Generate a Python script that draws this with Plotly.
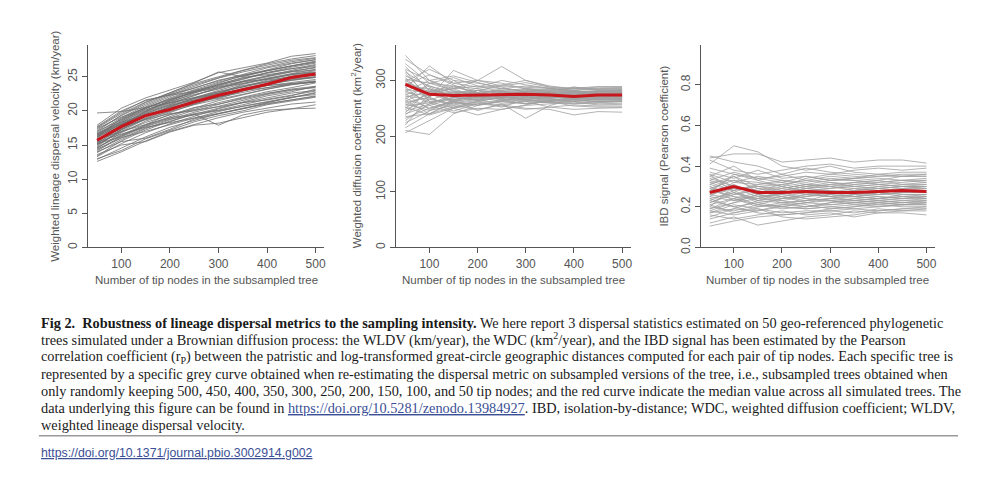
import plotly.graph_objects as go

# ---------------- data ----------------
tip_nodes = [50, 100, 150, 200, 250, 300, 350, 400, 450, 500]

wldv_trees = [
    [12.6,14.0,15.6,17.0,18.0,19.0,19.8,20.4,21.0,21.3],
    [12.9,14.5,16.2,17.6,18.6,19.6,20.4,21.1,21.6,22.2],
    [13.3,15.2,16.8,18.1,19.2,20.3,21.2,21.9,22.6,23.0],
    [13.6,15.0,15.5,16.9,17.9,18.2,19.0,19.8,20.3,20.4],
    [13.9,15.8,17.4,18.7,19.8,20.7,21.6,22.4,23.0,23.5],
    [14.1,16.3,17.9,19.2,20.4,21.5,22.4,23.2,23.8,24.3],
    [14.3,16.0,17.5,18.4,19.6,20.1,20.9,21.7,22.3,22.9],
    [14.5,16.8,18.5,19.8,21.0,22.1,23.0,23.8,24.5,25.0],
    [14.7,16.5,18.0,19.5,20.2,21.2,22.0,22.8,23.4,24.1],
    [14.8,17.2,18.9,20.3,21.5,22.6,23.6,24.3,25.1,25.6],
    [15.0,17.0,18.8,20.0,21.4,22.0,23.1,23.9,24.6,24.9],
    [15.1,16.9,18.3,19.4,20.5,21.0,21.8,22.5,23.2,23.6],
    [15.2,17.6,19.3,20.6,21.9,23.0,24.0,24.8,25.5,26.1],
    [15.3,17.3,19.0,20.7,21.8,22.8,23.5,24.5,25.0,25.3],
    [15.4,16.6,17.6,18.3,19.0,19.7,20.4,21.0,21.6,22.1],
    [15.5,17.8,19.6,21.0,22.3,23.3,24.3,25.1,25.8,26.4],
    [15.6,17.5,19.2,20.4,21.4,22.4,23.3,24.0,24.4,24.9],
    [15.7,17.9,19.7,20.9,21.8,22.5,23.9,24.6,25.4,25.7],
    [15.8,18.0,19.9,21.3,22.6,23.7,24.7,25.5,26.2,26.8],
    [15.9,17.4,18.8,19.9,20.9,21.7,22.4,23.1,23.9,24.3],
    [16.0,18.3,20.0,21.5,22.7,23.9,24.8,25.6,26.4,27.0],
    [16.1,18.1,19.4,20.5,21.3,22.0,22.7,23.4,23.9,24.2],
    [16.2,18.5,20.3,21.9,23.1,24.2,25.1,25.9,26.6,27.3],
    [16.3,17.7,18.7,19.6,20.0,21.0,21.9,22.6,23.1,23.4],
    [16.4,18.6,20.5,21.8,23.0,23.8,24.6,25.6,26.2,26.5],
    [16.5,18.2,19.8,21.1,22.0,22.9,23.7,24.3,24.9,25.2],
    [16.6,18.8,20.6,22.1,23.4,24.4,25.4,26.3,27.0,27.5],
    [16.7,18.4,20.1,21.4,22.4,23.2,24.2,25.0,25.7,26.0],
    [16.8,19.0,20.8,22.3,23.6,24.8,25.7,26.5,27.2,27.7],
    [17.0,18.7,20.2,21.2,22.2,23.5,24.0,24.7,25.3,25.9],
    [17.2,19.3,21.0,22.5,23.8,24.9,25.9,26.7,27.4,27.8],
    [17.4,19.1,20.4,21.6,22.8,23.6,24.4,25.2,26.0,26.7],
    [17.5,19.6,21.3,22.7,24.0,25.0,26.0,26.9,27.6,28.1],
    [17.7,20.0,21.5,22.4,23.3,24.5,25.2,25.8,26.6,27.1],
    [17.9,20.4,21.9,23.0,24.2,25.6,26.3,27.0,28.0,28.4],
    [19.7,19.9,20.5,21.2,21.9,22.6,23.1,23.7,24.0,24.4],
    [13.0,14.2,15.9,17.2,18.4,19.3,20.0,20.9,21.5,22.0],
    [14.0,15.5,16.0,17.3,18.8,19.5,20.3,21.2,22.0,22.6],
    [14.6,16.4,17.8,18.9,20.1,20.6,21.2,21.6,22.2,23.2],
    [15.0,17.3,19.5,20.8,21.6,21.8,22.9,23.7,24.2,24.6],
    [15.4,17.9,19.9,21.5,22.9,24.1,25.2,26.0,26.9,27.5],
    [15.8,17.0,18.0,19.0,19.5,17.9,19.4,20.1,20.3,20.9],
    [16.2,18.9,20.4,21.7,22.7,23.4,24.3,24.6,25.3,25.6],
    [16.6,18.3,19.5,20.2,21.0,22.0,23.0,23.4,24.0,24.2],
    [17.0,19.4,21.2,22.6,24.1,25.7,25.0,25.9,26.6,27.2],
    [17.6,19.8,21.6,22.3,22.8,23.9,24.9,25.3,25.8,26.3],
    [13.4,15.6,17.2,18.5,19.5,20.4,21.4,22.2,22.8,23.6],
    [14.4,16.1,17.0,18.0,18.9,19.9,20.7,21.4,22.0,22.4],
    [15.2,16.2,17.7,18.8,19.4,20.0,20.6,21.3,21.9,22.7],
    [16.4,18.0,19.3,20.6,21.6,22.7,23.5,24.2,24.7,25.0],
]
wldv_median = [15.7,17.7,19.3,20.2,21.3,22.3,23.1,23.9,24.9,25.4]

wdc_trees = [
    [345,300,285,290,280,275,278,282,276,280],
    [338,310,295,300,290,288,285,283,286,287],
    [330,295,305,290,285,280,277,275,279,281],
    [325,282,275,278,270,268,272,270,271,273],
    [320,300,280,275,285,290,286,280,282,284],
    [315,288,270,265,268,272,275,278,276,277],
    [312,270,318,300,295,285,280,278,281,283],
    [308,290,278,282,276,279,283,286,283,282],
    [305,262,266,270,274,276,268,265,270,272],
    [302,295,290,285,280,275,270,272,268,269],
    [300,276,262,268,272,281,284,279,275,276],
    [298,320,300,295,288,278,268,274,280,279],
    [296,280,285,270,262,266,270,273,277,275],
    [294,268,256,262,270,272,264,262,266,268],
    [292,310,292,276,282,270,273,270,272,274],
    [290,285,272,265,270,264,260,265,262,264],
    [288,255,268,282,278,274,281,288,284,285],
    [286,326,295,288,300,292,286,280,280,281],
    [284,278,265,274,268,279,276,271,270,271],
    [282,260,245,258,265,268,271,268,273,272],
    [280,300,308,296,285,282,278,288,283,282],
    [278,272,280,276,272,266,262,258,260,262],
    [276,248,262,255,263,270,275,281,277,278],
    [274,290,276,286,292,300,290,285,288,288],
    [272,266,258,264,259,262,268,274,270,270],
    [270,280,290,278,282,276,272,266,268,268],
    [268,250,262,270,276,284,278,272,275,275],
    [266,295,282,272,266,258,262,268,265,266],
    [264,240,252,262,270,265,260,258,262,263],
    [262,285,270,282,278,274,279,276,279,278],
    [260,270,300,276,268,275,270,282,276,276],
    [258,246,255,248,256,262,266,262,258,259],
    [256,276,285,300,325,300,288,286,289,289],
    [254,260,270,264,280,286,282,278,280,279],
    [252,238,250,258,254,248,252,256,254,254],
    [250,280,264,272,265,270,262,268,266,266],
    [248,265,278,268,275,265,270,275,271,271],
    [245,258,270,282,290,296,288,282,285,286],
    [242,284,260,256,262,258,264,270,266,265],
    [240,255,242,250,248,255,258,261,256,257],
    [238,272,288,278,270,280,276,274,273,274],
    [235,240,260,266,275,270,278,276,279,279],
    [232,250,264,246,258,232,255,266,262,262],
    [228,258,275,282,268,262,252,248,250,251],
    [224,245,266,270,280,272,266,262,268,268],
    [220,270,252,262,252,266,272,270,269,270],
    [215,240,262,276,270,285,280,264,261,262],
    [210,203,240,255,264,258,262,254,252,252],
    [206,228,250,260,256,250,248,238,244,243],
    [318,262,250,238,248,256,264,268,264,265],
]
wdc_median = [293,275,273,274,274,275,274,271,274,274]

ibd_trees = [
    [0.45,0.42,0.40,0.36,0.33,0.35,0.34,0.33,0.35,0.35],
    [0.44,0.46,0.46,0.42,0.43,0.44,0.42,0.43,0.43,0.415],
    [0.43,0.38,0.36,0.38,0.40,0.41,0.39,0.40,0.40,0.40],
    [0.41,0.50,0.47,0.40,0.38,0.40,0.37,0.36,0.37,0.37],
    [0.39,0.36,0.34,0.35,0.37,0.36,0.38,0.39,0.38,0.39],
    [0.37,0.34,0.38,0.34,0.35,0.33,0.34,0.35,0.36,0.36],
    [0.36,0.32,0.31,0.33,0.32,0.34,0.33,0.31,0.32,0.33],
    [0.35,0.40,0.33,0.30,0.34,0.36,0.35,0.34,0.33,0.34],
    [0.34,0.30,0.28,0.31,0.29,0.31,0.32,0.33,0.31,0.32],
    [0.33,0.37,0.34,0.32,0.30,0.29,0.30,0.29,0.30,0.31],
    [0.32,0.28,0.30,0.29,0.31,0.30,0.28,0.30,0.29,0.30],
    [0.31,0.35,0.27,0.26,0.28,0.29,0.31,0.32,0.33,0.32],
    [0.30,0.26,0.29,0.28,0.26,0.27,0.29,0.28,0.27,0.28],
    [0.29,0.33,0.32,0.30,0.27,0.25,0.26,0.27,0.28,0.29],
    [0.28,0.25,0.24,0.27,0.29,0.28,0.27,0.26,0.27,0.27],
    [0.27,0.31,0.26,0.24,0.25,0.26,0.25,0.24,0.26,0.26],
    [0.26,0.29,0.30,0.28,0.30,0.32,0.30,0.29,0.28,0.28],
    [0.25,0.23,0.25,0.26,0.24,0.23,0.24,0.25,0.24,0.25],
    [0.24,0.27,0.23,0.22,0.23,0.24,0.23,0.22,0.23,0.24],
    [0.23,0.20,0.22,0.24,0.26,0.25,0.26,0.27,0.25,0.26],
    [0.22,0.26,0.28,0.25,0.22,0.21,0.22,0.23,0.22,0.22],
    [0.21,0.24,0.20,0.21,0.22,0.23,0.21,0.20,0.21,0.21],
    [0.20,0.18,0.21,0.19,0.20,0.22,0.24,0.23,0.22,0.23],
    [0.19,0.22,0.24,0.23,0.21,0.19,0.20,0.21,0.20,0.20],
    [0.18,0.16,0.18,0.20,0.19,0.20,0.19,0.18,0.19,0.19],
    [0.17,0.21,0.19,0.17,0.18,0.18,0.17,0.19,0.18,0.18],
    [0.16,0.14,0.16,0.18,0.16,0.17,0.15,0.17,0.17,0.16],
    [0.14,0.17,0.19,0.15,0.14,0.15,0.16,0.18,0.19,0.20],
    [0.12,0.15,0.11,0.13,0.15,0.16,0.18,0.17,0.18,0.19],
    [0.105,0.13,0.15,0.16,0.17,0.19,0.20,0.22,0.21,0.22],
    [0.27,0.36,0.33,0.36,0.39,0.37,0.36,0.35,0.35,0.36],
    [0.25,0.32,0.35,0.33,0.31,0.33,0.34,0.36,0.35,0.35],
    [0.22,0.27,0.24,0.28,0.30,0.31,0.30,0.31,0.30,0.30],
    [0.20,0.30,0.26,0.25,0.23,0.26,0.28,0.29,0.30,0.29],
    [0.30,0.23,0.26,0.23,0.25,0.27,0.25,0.24,0.25,0.25],
    [0.33,0.29,0.25,0.22,0.20,0.22,0.23,0.24,0.23,0.23],
    [0.36,0.27,0.22,0.20,0.19,0.20,0.21,0.22,0.21,0.21],
    [0.18,0.22,0.26,0.29,0.31,0.30,0.29,0.28,0.29,0.29],
    [0.15,0.19,0.23,0.27,0.28,0.28,0.27,0.26,0.27,0.27],
    [0.24,0.20,0.17,0.16,0.17,0.18,0.19,0.20,0.21,0.22],
    [0.28,0.35,0.30,0.31,0.33,0.32,0.31,0.30,0.31,0.31],
    [0.31,0.28,0.23,0.25,0.27,0.26,0.25,0.26,0.27,0.27],
    [0.26,0.24,0.27,0.30,0.28,0.27,0.28,0.27,0.26,0.26],
    [0.19,0.24,0.21,0.24,0.26,0.25,0.23,0.24,0.25,0.24],
    [0.35,0.30,0.27,0.27,0.29,0.30,0.32,0.31,0.30,0.30],
    [0.23,0.28,0.31,0.32,0.35,0.33,0.33,0.32,0.33,0.33],
    [0.29,0.25,0.21,0.20,0.22,0.24,0.26,0.25,0.24,0.24],
    [0.17,0.19,0.18,0.21,0.20,0.21,0.22,0.23,0.24,0.25],
    [0.32,0.33,0.29,0.27,0.24,0.23,0.22,0.21,0.22,0.23],
    [0.21,0.17,0.20,0.22,0.23,0.24,0.25,0.27,0.28,0.28],
]
ibd_median = [0.27,0.30,0.27,0.27,0.275,0.27,0.27,0.275,0.28,0.275]

x_ticks = [100, 200, 300, 400, 500]
wldv_yticks = [0, 5, 10, 15, 20, 25]
wdc_yticks = [0, 100, 200, 300]
ibd_yticks = [0.0, 0.2, 0.4, 0.6, 0.8]

x_title = "Number of tip nodes in the subsampled tree"
y_titles = [
    "Weighted lineage dispersal velocity (km/year)",
    "Weighted diffusion coefficient (km<sup>2</sup>/year)",
    "IBD signal (Pearson coefficient)",
]

caption_lines = [
    "<b>Fig 2.  Robustness of lineage dispersal metrics to the sampling intensity.</b> We here report 3 dispersal statistics estimated on 50 geo-referenced phylogenetic",
    "trees simulated under a Brownian diffusion process: the WLDV (km/year), the WDC (km<sup>2</sup>/year), and the IBD signal has been estimated by the Pearson",
    "correlation coefficient (r<sub>P</sub>) between the patristic and log-transformed great-circle geographic distances computed for each pair of tip nodes. Each specific tree is",
    "represented by a specific grey curve obtained when re-estimating the dispersal metric on subsampled versions of the tree, i.e., subsampled trees obtained when",
    "only randomly keeping 500, 450, 400, 350, 300, 250, 200, 150, 100, and 50 tip nodes; and the red curve indicate the median value across all simulated trees. The",
    "data underlying this figure can be found in <span style=\"color:#3b4f96;text-decoration:underline\">https://doi.org/10.5281/zenodo.13984927</span>. IBD, isolation-by-distance; WDC, weighted diffusion coefficient; WLDV,",
    "weighted lineage dispersal velocity.",
]
doi_text = "https://doi.org/10.1371/journal.pbio.3002914.g002"

# ---------------- layout helpers ----------------
W, H = 1000, 494
def px(x):
    return x / W
def py(y):
    return 1 - y / H

panels = [
    dict(trees=wldv_trees, med=wldv_median, yticks=wldv_yticks, yr=[0, 29.6],
         xd=[88, 325], grey="#707070", fmt=None, ytx=55),
    dict(trees=wdc_trees, med=wdc_median, yticks=wdc_yticks, yr=[0, 363],
         xd=[397, 632], grey="#a0a0a0", fmt=None, ytx=357),
    dict(trees=ibd_trees, med=ibd_median, yticks=ibd_yticks, yr=[0, 0.994],
         xd=[702, 937], grey="#a0a0a0", fmt=".1f", ytx=665),
]

fig = go.Figure()
axis_color = "#555555"
tick_font = dict(family="Liberation Sans, Arial, sans-serif", size=12, color="#555555")
title_font = dict(family="Liberation Sans, Arial, sans-serif", size=11.5, color="#555555")

for i, p in enumerate(panels):
    sfx = "" if i == 0 else str(i + 1)
    xa, ya = "x" + sfx, "y" + sfx
    for tr in p["trees"]:
        fig.add_trace(go.Scatter(x=tip_nodes, y=tr, mode="lines", xaxis=xa, yaxis=ya,
                                 line=dict(color=p["grey"], width=0.8), showlegend=False,
                                 hoverinfo="skip"))
    fig.add_trace(go.Scatter(x=tip_nodes, y=p["med"], mode="lines", xaxis=xa, yaxis=ya,
                             line=dict(color="#c8161d", width=3), showlegend=False))
    fig.layout["xaxis" + sfx] = dict(
        domain=[px(p["xd"][0]), px(p["xd"][1])], anchor=ya, range=[31, 518],
        tickvals=x_ticks, ticks="outside", ticklen=5, tickcolor=axis_color,
        showline=True, linecolor=axis_color, linewidth=1, showgrid=False, zeroline=False,
        tickfont=tick_font)
    ydict = dict(
        domain=[py(251), py(46)], anchor=xa, range=p["yr"],
        tickvals=p["yticks"], ticks="outside", ticklen=5, tickcolor=axis_color,
        showline=True, linecolor=axis_color, linewidth=1, showgrid=False, zeroline=False,
        tickangle=-90, tickfont=tick_font)
    if p["fmt"]:
        ydict["tickformat"] = p["fmt"]
    fig.layout["yaxis" + sfx] = ydict
    # axis titles
    xc = (p["xd"][0] + p["xd"][1]) / 2
    fig.add_annotation(x=px(xc), y=py(284), xref="paper", yref="paper", text=x_title,
                       showarrow=False, xanchor="center", yanchor="middle", font=title_font)
    fig.add_annotation(x=px(p["ytx"]), y=py(148), xref="paper", yref="paper", text=y_titles[i],
                       showarrow=False, xanchor="center", yanchor="middle", textangle=-90,
                       font=title_font)

# caption
line_y = [327.5, 344.8, 362.1, 379.4, 396.7, 414.0, 431.3]
for txt, yy in zip(caption_lines, line_y):
    fig.add_annotation(x=px(39), y=py(yy), xref="paper", yref="paper", text=txt,
                       showarrow=False, xanchor="left", yanchor="middle", align="left",
                       font=dict(family="Liberation Serif, Times New Roman, serif", size=14.3, color="#1a1a1a"))

fig.add_shape(type="line", xref="paper", yref="paper", x0=px(39), x1=px(960),
              y0=py(442), y1=py(442), line=dict(color="#9a9a9a", width=1.5))

fig.add_annotation(x=px(39), y=py(460), xref="paper", yref="paper",
                   text="<span style=\"text-decoration:underline\">" + doi_text + "</span>",
                   showarrow=False, xanchor="left", yanchor="middle",
                   font=dict(family="Liberation Sans Narrow, Liberation Sans, Arial, sans-serif", size=12.3, color="#3b4f96"))

fig.update_layout(width=W, height=H, margin=dict(l=0, r=0, t=0, b=0),
                  paper_bgcolor="white", plot_bgcolor="white")

# remove the browser's default 8px page margin so the figure sits at the window origin
fig.write_html("out.html", config={"displayModeBar": False},
               post_script="document.body.style.margin='0';")
